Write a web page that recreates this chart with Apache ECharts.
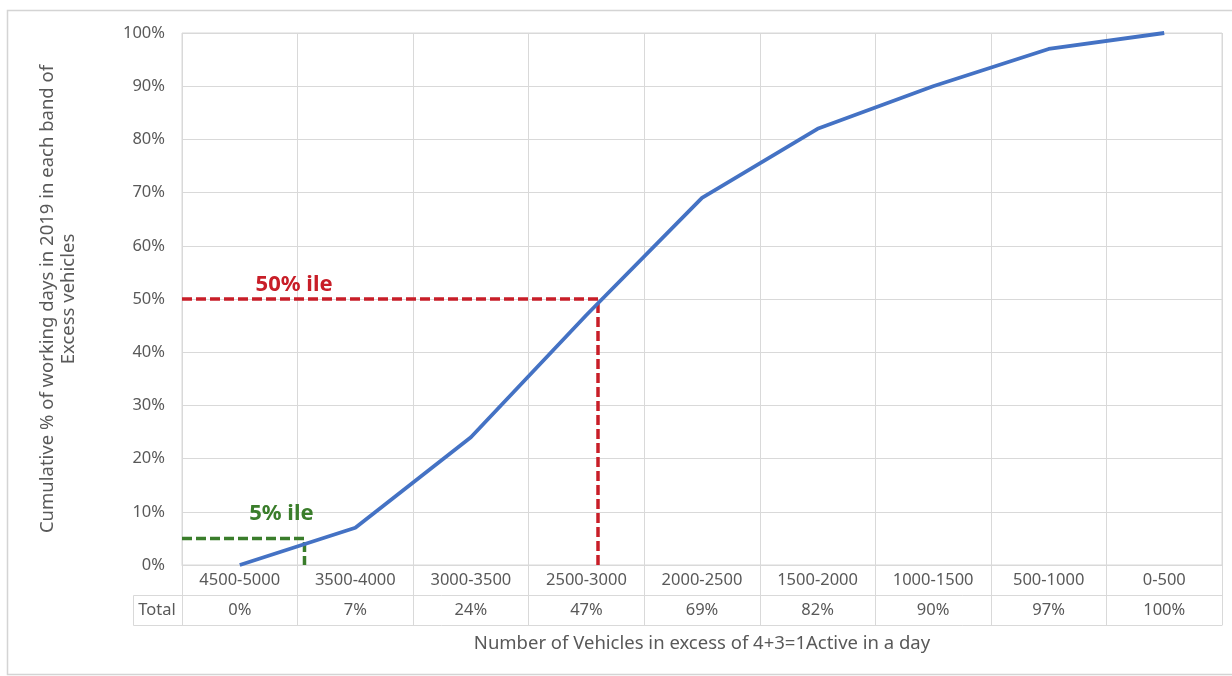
<!DOCTYPE html>
<html><head><meta charset="utf-8">
<script src="https://cdn.jsdelivr.net/npm/echarts@6/dist/echarts.min.js"></script>
<style>html,body{margin:0;padding:0;background:#fff}#c{width:1232px;height:676px}</style>
</head><body><div id="c"></div>
<script>
const categories = ['4500-5000','3500-4000','3000-3500','2500-3000','2000-2500','1500-2000','1000-1500','500-1000','0-500'];
const cumulativePct = [0, 7, 24, 47, 69, 82, 90, 97, 100];
const tableRowName = 'Total';
// percentile guide lines, in (category index, %) units
const p50Line = [[-0.5, 50], [3.1, 50], [3.1, 0]];
const p5Line = [[-0.5, 5], [0.56, 5], [0.56, 0]];
const p50Label = [[0.47, 52.6, '50% ile']];
const p5Label = [[0.36, 9.6, '5% ile']];
const yName = 'Cumulative % of working days in 2019 in each band of\nExcess vehicles';
const xName = 'Number of Vehicles in excess of 4+3=1Active in a day';

const FONT = 'Noto Sans';
const TXT = '#595959';
const GRIDC = '#d9d9d9';
const RED = '#c81e28';
const GREEN = '#3a7d2b';

const chart = echarts.init(document.getElementById('c'), null, {renderer: 'canvas'});
chart.setOption({
  backgroundColor: '#fff',
  animation: false,
  textStyle: {fontFamily: FONT},
  grid: {left: 182, right: 10, top: 33, bottom: 111, show: true, borderColor: GRIDC, borderWidth: 1, containLabel: false},
  xAxis: [
    {
      type: 'category', data: categories, boundaryGap: true, position: 'bottom',
      axisLine: {show: true, lineStyle: {color: GRIDC, width: 1}},
      axisTick: {show: true, interval: 0, length: 60, lineStyle: {color: GRIDC, width: 1}},
      splitLine: {show: true, interval: 0, lineStyle: {color: GRIDC, width: 1}},
      axisLabel: {
        interval: 0, margin: 0, color: TXT, fontSize: 16.5, fontFamily: FONT,
        formatter: (v, i) => '{c|' + v + '}\n{c|' + cumulativePct[i] + '%}',
        rich: {c: {lineHeight: 30, fontSize: 16.5, color: TXT, fontFamily: FONT}}
      },
      name: xName, nameLocation: 'middle', nameGap: 69,
      nameTextStyle: {color: TXT, fontSize: 18.5, fontFamily: FONT}
    },
    {
      type: 'value', min: -0.5, max: 8.5, show: false
    },
    {
      type: 'category', data: categories, position: 'bottom', offset: 30,
      axisLine: {show: true, lineStyle: {color: GRIDC, width: 1}},
      axisTick: {show: false}, axisLabel: {show: false}, splitLine: {show: false}
    },
    {
      type: 'category', data: categories, position: 'bottom', offset: 60,
      axisLine: {show: true, lineStyle: {color: GRIDC, width: 1}},
      axisTick: {show: false}, axisLabel: {show: false}, splitLine: {show: false}
    }
  ],
  yAxis: {
    type: 'value', min: 0, max: 100, interval: 10,
    axisLine: {show: false}, axisTick: {show: false},
    splitLine: {show: true, lineStyle: {color: GRIDC, width: 1}},
    axisLabel: {formatter: '{value}%', color: TXT, fontSize: 16.5, margin: 17, fontFamily: FONT},
    name: yName, nameLocation: 'middle', nameGap: 103, nameRotate: 90,
    nameTextStyle: {color: TXT, fontSize: 18.5, lineHeight: 21, align: 'center', fontFamily: FONT}
  },
  series: [
    {
      type: 'line', xAxisIndex: 0, data: cumulativePct, showSymbol: false, symbol: 'none',
      lineStyle: {color: '#4472c4', width: 3.8}, z: 5
    },
    {
      type: 'line', xAxisIndex: 1, data: p50Line, showSymbol: false, symbol: 'none',
      lineStyle: {color: RED, width: 3.5, type: [10, 4]}, z: 4
    },
    {
      type: 'line', xAxisIndex: 1, data: p5Line, showSymbol: false, symbol: 'none',
      lineStyle: {color: GREEN, width: 3.5, type: [10, 4]}, z: 4
    },
    {
      type: 'scatter', xAxisIndex: 1, data: p50Label, symbolSize: 0, silent: true,
      itemStyle: {opacity: 1},
      label: {show: true, position: 'inside', opacity: 1, formatter: p => p.data[2], color: RED, fontSize: 22, fontWeight: 'bold', fontFamily: FONT}
    },
    {
      type: 'scatter', xAxisIndex: 1, data: p5Label, symbolSize: 0, silent: true,
      itemStyle: {opacity: 1},
      label: {show: true, position: 'inside', opacity: 1, formatter: p => p.data[2], color: GREEN, fontSize: 22, fontWeight: 'bold', fontFamily: FONT}
    }
  ],
  graphic: [
    {type: 'rect', shape: {x: 7.5, y: 10.5, width: 1240, height: 664}, style: {fill: 'none', stroke: '#d4d4d4', lineWidth: 1.5}, silent: true},
    {type: 'line', shape: {x1: 133.5, y1: 595.5, x2: 182, y2: 595.5}, style: {stroke: GRIDC, lineWidth: 1}},
    {type: 'line', shape: {x1: 133.5, y1: 625.5, x2: 182, y2: 625.5}, style: {stroke: GRIDC, lineWidth: 1}},
    {type: 'line', shape: {x1: 133.5, y1: 595.5, x2: 133.5, y2: 625.5}, style: {stroke: GRIDC, lineWidth: 1}},
    {type: 'text', x: 157, y: 610, style: {text: tableRowName, fill: TXT, font: '16.5px "Noto Sans"', textAlign: 'center', textVerticalAlign: 'middle'}}
  ]
});
</script>
</body></html>
